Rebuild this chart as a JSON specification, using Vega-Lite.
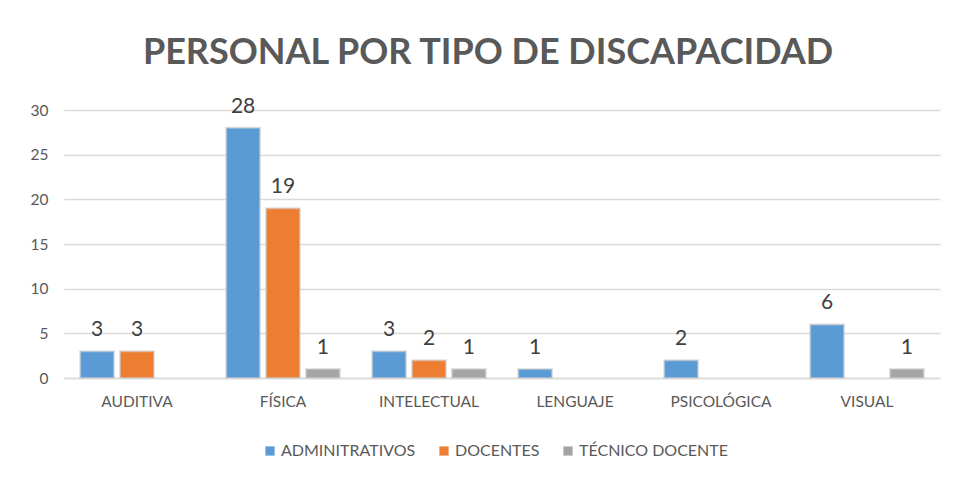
{
  "$schema": "https://vega.github.io/schema/vega-lite/v6.json",
  "width": 876,
  "height": 268,
  "autosize": {"type": "none"},
  "padding": {"left": 64, "top": 110, "right": 16, "bottom": 102},
  "background": "white",
  "title": {
    "text": "PERSONAL POR TIPO DE DISCAPACIDAD",
    "font": "Lato",
    "fontSize": 36,
    "fontWeight": "bold",
    "color": "#595959",
    "anchor": "middle",
    "dx": -14,
    "offset": 24
  },
  "data": {
    "values": [
      {"tipo": "AUDITIVA", "grupo": "ADMINITRATIVOS", "valor": 3},
      {"tipo": "AUDITIVA", "grupo": "DOCENTES", "valor": 3},
      {"tipo": "FÍSICA", "grupo": "ADMINITRATIVOS", "valor": 28},
      {"tipo": "FÍSICA", "grupo": "DOCENTES", "valor": 19},
      {"tipo": "FÍSICA", "grupo": "TÉCNICO DOCENTE", "valor": 1},
      {"tipo": "INTELECTUAL", "grupo": "ADMINITRATIVOS", "valor": 3},
      {"tipo": "INTELECTUAL", "grupo": "DOCENTES", "valor": 2},
      {"tipo": "INTELECTUAL", "grupo": "TÉCNICO DOCENTE", "valor": 1},
      {"tipo": "LENGUAJE", "grupo": "ADMINITRATIVOS", "valor": 1},
      {"tipo": "PSICOLÓGICA", "grupo": "ADMINITRATIVOS", "valor": 2},
      {"tipo": "VISUAL", "grupo": "ADMINITRATIVOS", "valor": 6},
      {"tipo": "VISUAL", "grupo": "TÉCNICO DOCENTE", "valor": 1}
    ]
  },
  "encoding": {
    "x": {
      "field": "tipo",
      "type": "nominal",
      "sort": null,
      "scale": {"paddingInner": 0.18, "paddingOuter": 0.09},
      "axis": {
        "title": null,
        "labelAngle": 0,
        "labelFont": "Lato",
        "labelFontSize": 15.5,
        "labelColor": "#595959",
        "labelPadding": 16,
        "ticks": false,
        "domainColor": "#d9d9d9",
        "domainWidth": 1.5
      }
    },
    "xOffset": {
      "field": "grupo",
      "type": "nominal",
      "scale": {"domain": ["ADMINITRATIVOS", "DOCENTES", "TÉCNICO DOCENTE"], "paddingInner": 0.15, "paddingOuter": 0.075}
    },
    "y": {
      "field": "valor",
      "type": "quantitative",
      "scale": {"domain": [0, 30]},
      "axis": {
        "title": null,
        "values": [0, 5, 10, 15, 20, 25, 30],
        "labelFont": "Lato",
        "labelFontSize": 15.5,
        "labelColor": "#595959",
        "labelPadding": 16,
        "ticks": false,
        "domain": false,
        "gridColor": "#d9d9d9",
        "gridWidth": 1.5
      }
    }
  },
  "layer": [
    {
      "mark": {"type": "bar", "stroke": "#cfcfcf", "strokeWidth": 2, "strokeOpacity": 0.6},
      "encoding": {
        "color": {
          "field": "grupo",
          "type": "nominal",
          "scale": {"domain": ["ADMINITRATIVOS", "DOCENTES", "TÉCNICO DOCENTE"], "range": ["#5b9bd5", "#ed7d31", "#a5a5a5"]},
          "legend": {
            "title": null,
            "orient": "none",
            "legendX": 198,
            "legendY": 333,
            "direction": "horizontal",
            "symbolType": "square",
            "symbolSize": 85,
            "symbolStrokeWidth": 0,
            "labelFont": "Lato",
            "labelFontSize": 16,
            "labelColor": "#595959",
            "labelOffset": 3,
            "columnPadding": 20
          }
        }
      }
    },
    {
      "mark": {"type": "text", "baseline": "bottom", "dy": -11, "font": "Lato", "fontSize": 21, "color": "#404040"},
      "encoding": {"text": {"field": "valor", "type": "quantitative"}}
    }
  ],
  "config": {"view": {"stroke": null}}
}
